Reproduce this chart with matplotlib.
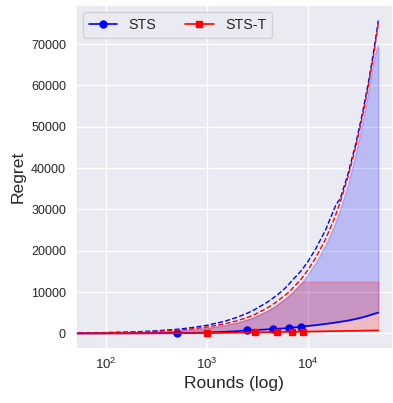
import matplotlib
matplotlib.use("Agg")
import matplotlib.pyplot as plt
import seaborn as sns

sns.set_theme(style="darkgrid")
plt.rcParams['font.family'] = ['Liberation Sans', 'DejaVu Sans']
plt.rcParams['mathtext.fontset'] = 'custom'
plt.rcParams['mathtext.rm'] = 'Liberation Sans'

# rounds on the x axis (log scale)
rounds = [10, 20, 50, 100, 200, 300, 500, 700, 1000, 1500, 2000, 2500, 3000,
          4000, 4500, 5000, 6000, 6500, 7000, 8500, 9000, 10000, 12000, 15000,
          18000, 19000, 21000, 25000, 30000, 35000, 40000, 45000, 48000, 50000]

# mean regret
sts = [1, 3, 8, 15, 30, 45, 80, 130, 220, 380, 550, 720, 800,
       980, 1050, 1120, 1240, 1300, 1380, 1620, 1680, 1800, 2000, 2300,
       2550, 2650, 2800, 3100, 3500, 3900, 4300, 4700, 4900, 5030]
sts_t = [1, 2, 5, 10, 20, 30, 50, 70, 100, 140, 180, 210, 240,
         290, 310, 330, 360, 370, 380, 410, 420, 440, 470, 510,
         540, 550, 570, 600, 630, 660, 680, 700, 710, 720]

# dashed curves
sts_dash = [20, 40, 98, 195, 390, 585, 975, 1365, 1950, 2925, 3900, 4850, 5800,
            7600, 8500, 9300, 11000, 11900, 12800, 15000, 15800, 17300, 20500, 25000,
            29700, 31100, 32600, 38500, 46000, 53500, 60800, 68200, 72600, 75700]
sts_t_dash = [15, 30, 76, 153, 306, 460, 765, 1070, 1530, 2300, 3060, 3820, 4600,
              6200, 7000, 7800, 9300, 10000, 10800, 13000, 13800, 15300, 18300, 22800,
              27300, 28800, 31800, 37800, 45300, 52700, 60100, 67500, 72000, 74900]

# upper edges of the shaded bands
sts_upper = [12, 25, 62, 125, 250, 380, 640, 900, 1300, 1970, 2650, 3330, 4050,
             5520, 6250, 7000, 8450, 9150, 9900, 12000, 12750, 14200, 17100, 21400,
             25700, 27200, 30000, 36000, 43600, 51200, 58800, 66000, 68800, 69700]
sts_t_upper = [12, 25, 62, 125, 250, 380, 640, 900, 1300, 1970, 2650, 3330, 4050,
               5520, 6250, 7000, 8450, 9150, 9900, 12000, 12500, 12500, 12500, 12500,
               12500, 12500, 12500, 12500, 12500, 12500, 12500, 12500, 12500, 12500]

sts_marks = [500, 2500, 4500, 6500, 8500]
sts_t_marks = [1000, 3000, 5000, 7000, 9000]

fig = plt.figure(figsize=(3.93, 4.03), dpi=100)
ax = fig.add_axes([75.7 / 393, 54 / 403, 1 - 75.7 / 393, 344 / 403])

ax.fill_between(rounds, sts, sts_upper, color='blue', alpha=0.2)
ax.fill_between(rounds, sts_t, sts_t_upper, color='red', alpha=0.2)

ax.plot(rounds, sts, color='blue', lw=1.2, marker='o', ms=5,
        markevery=[rounds.index(r) for r in sts_marks], label='STS')
ax.plot(rounds, sts_t, color='red', lw=1.2, marker='s', ms=5,
        markevery=[rounds.index(r) for r in sts_t_marks], label='STS-T')
ax.plot(rounds, sts_dash, color='blue', lw=1.0, ls='--')
ax.plot(rounds, sts_t_dash, color='red', lw=1.0, ls='--')

ax.set_xscale('log')
ax.set_xlim(50, 70000)
ax.set_xlabel('Rounds (log)', fontsize=12.6, labelpad=3)
ax.set_ylabel('Regret', fontsize=12.6)
ax.tick_params(axis='y', labelsize=9, length=0, pad=7)
ax.tick_params(axis='x', labelsize=9.5, length=0, pad=5.5)
ax.minorticks_off()
ax.legend(loc='upper left', ncol=2, fontsize=10.3)

plt.savefig('out.png', dpi=100)
